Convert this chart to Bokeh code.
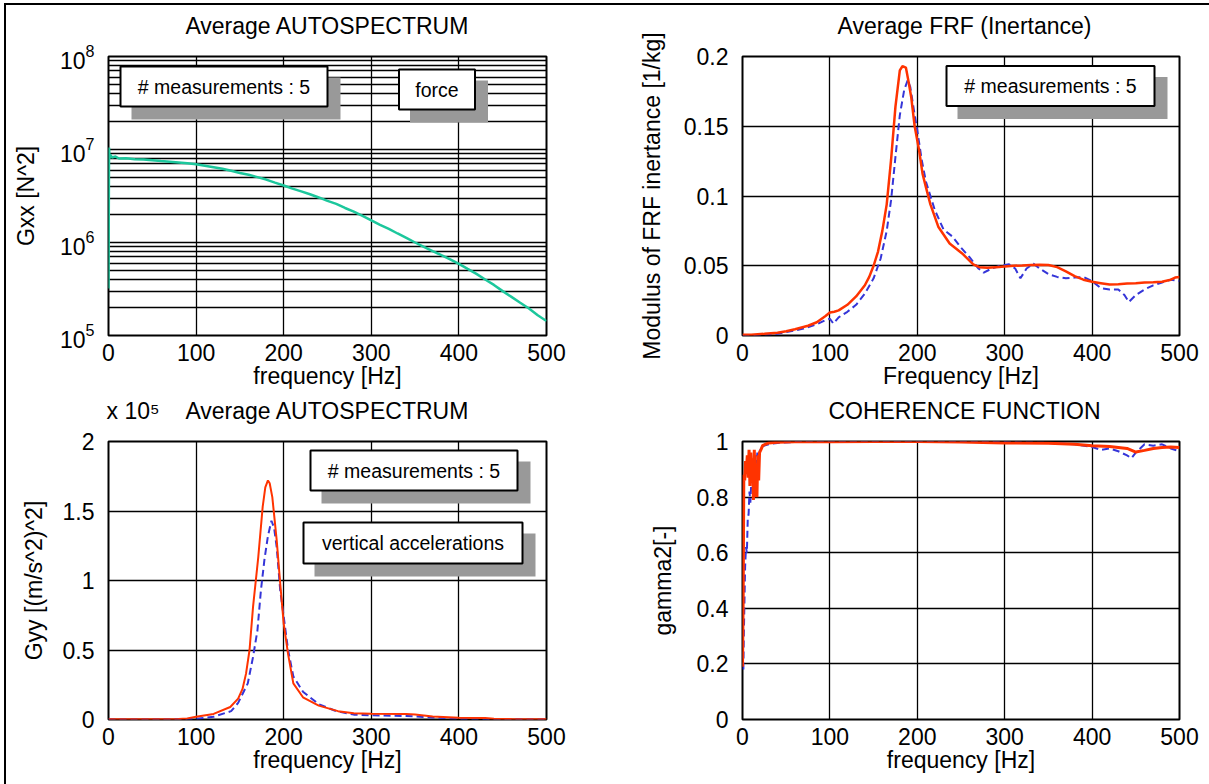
import math
from bokeh.plotting import figure
from bokeh.layouts import gridplot
from bokeh.models import Range1d, FixedTicker, Label, LinearAxis
from bokeh.embed import file_html
from bokeh.resources import INLINE

# ---------------- data ----------------
# Panel 1: force autospectrum Gxx [N^2]
gxx_f = [0, 0.6, 1.2, 2, 4, 8, 12, 20, 30, 40, 50, 60, 70, 80, 90, 100, 110, 120, 130, 140, 150,
         160, 170, 180, 190, 200, 210, 220, 230, 240, 250, 260, 270, 280, 290, 300, 310, 320,
         330, 340, 350, 360, 370, 380, 390, 400, 410, 420, 430, 440, 450, 460, 470, 480, 490, 500]
gxx_v = [3.2e5, 1.05e7, 8.0e6, 8.8e6, 8.2e6, 8.4e6, 8.0e6, 8.05e6, 7.85e6, 7.8e6, 7.65e6, 7.5e6,
         7.4e6, 7.25e6, 7.1e6, 6.95e6, 6.7e6, 6.45e6, 6.2e6, 5.9e6, 5.6e6, 5.35e6, 5.05e6, 4.75e6,
         4.4e6, 4.1e6, 3.8e6, 3.55e6, 3.3e6, 3.05e6, 2.8e6, 2.6e6, 2.35e6, 2.15e6, 1.93e6, 1.73e6,
         1.55e6, 1.4e6, 1.25e6, 1.12e6, 1.0e6, 9.0e5, 8.1e5, 7.3e5, 6.6e5, 5.9e5, 5.2e5, 4.6e5,
         4.0e5, 3.5e5, 3.0e5, 2.6e5, 2.25e5, 1.95e5, 1.65e5, 1.43e5]

# Panel 2: FRF inertance modulus [1/kg]
frf_red_f = [0, 10, 25, 40, 50, 60, 75, 85, 95, 100, 105, 110, 120, 130, 140, 145, 150, 155, 160,
             165, 170, 175, 180, 183, 187, 190, 193, 197, 202, 206, 210, 215, 224, 237, 251, 264,
             271, 280, 290, 300, 310, 320, 330, 340, 350, 360, 370, 380, 390, 400, 410, 420, 430,
             440, 450, 460, 470, 480, 490, 495, 500]
frf_red_v = [0.0005, 0.0005, 0.0012, 0.002, 0.003, 0.0045, 0.007, 0.0095, 0.014, 0.0165, 0.017,
             0.018, 0.022, 0.028, 0.036, 0.042, 0.05, 0.06, 0.075, 0.094, 0.126, 0.164, 0.19,
             0.193, 0.192, 0.182, 0.171, 0.15, 0.133, 0.116, 0.106, 0.094, 0.078, 0.066, 0.059,
             0.051, 0.049, 0.0485, 0.049, 0.0495, 0.05, 0.0502, 0.0505, 0.0508, 0.0505, 0.049,
             0.046, 0.0425, 0.04, 0.0385, 0.0375, 0.0365, 0.0368, 0.0372, 0.0375, 0.038, 0.0382,
             0.0385, 0.04, 0.0415, 0.042]
frf_blue_f = [0, 20, 40, 55, 70, 85, 95, 100, 104, 110, 120, 130, 140, 150, 158, 165, 170, 175,
              180, 185, 189, 192, 196, 200, 205, 210, 220, 230, 240, 250, 260, 270, 276, 285, 295,
              305, 312, 318, 325, 333, 340, 350, 360, 370, 380, 390, 400, 410, 420, 430, 437, 442,
              450, 460, 470, 480, 490, 500]
frf_blue_v = [0.0003, 0.0005, 0.0012, 0.003, 0.005, 0.008, 0.011, 0.012, 0.0085, 0.013, 0.017,
              0.022, 0.03, 0.041, 0.055, 0.075, 0.097, 0.128, 0.158, 0.176, 0.183, 0.178, 0.162,
              0.147, 0.126, 0.11, 0.09, 0.076, 0.071, 0.063, 0.056, 0.048, 0.045, 0.048, 0.05,
              0.051, 0.048, 0.041, 0.048, 0.0515, 0.048, 0.044, 0.042, 0.041, 0.0415, 0.042,
              0.039, 0.034, 0.033, 0.033, 0.029, 0.024, 0.029, 0.033, 0.036, 0.038, 0.04, 0.039]

# Panel 3: acceleration autospectrum Gyy [(m/s^2)^2], in units of 1e5
gyy_red_f = [0, 50, 80, 90, 100, 120, 139, 148, 153, 157, 161, 165, 171, 176, 179, 182, 184, 187,
             192, 196, 200, 205, 211, 222, 240, 262, 280, 300, 340, 350, 370, 400, 430, 440, 460, 500]
gyy_red_v = [0.002, 0.002, 0.004, 0.008, 0.02, 0.04, 0.09, 0.15, 0.22, 0.33, 0.5, 0.81, 1.17,
             1.53, 1.67, 1.72, 1.70, 1.6, 1.29, 0.98, 0.69, 0.47, 0.26, 0.16, 0.10, 0.06, 0.045,
             0.042, 0.04, 0.036, 0.022, 0.012, 0.01, 0.005, 0.003, 0.002]
gyy_blue_f = [0, 50, 100, 120, 140, 148, 159, 165, 170, 174, 178, 182, 186, 189, 192, 196, 200,
              205, 211, 222, 240, 260, 280, 300, 340, 370, 400, 450, 500]
gyy_blue_v = [0.001, 0.001, 0.005, 0.02, 0.06, 0.12, 0.26, 0.45, 0.64, 0.93, 1.15, 1.32, 1.43,
              1.38, 1.24, 0.93, 0.74, 0.5, 0.31, 0.2, 0.11, 0.06, 0.035, 0.03, 0.025, 0.015,
              0.006, 0.003, 0.002]

# Panel 4: coherence gamma^2
coh_red_f = [0, 0.8, 1.5, 2.5, 3.5, 4.5, 5.5, 6.5, 7.5, 8.5, 9.5, 10.5, 11.5, 12.5, 13.5, 14.5,
             15.5, 16.5, 17.5, 18.5, 19.5, 21, 23, 26, 30, 40, 60, 100, 150, 200, 250, 300, 350,
             380, 400, 420, 440, 450, 460, 470, 480, 490, 500]
coh_red_v = [0.19, 0.45, 0.88, 0.86, 0.93, 0.9, 0.95, 0.87, 0.97, 0.84, 0.96, 0.88, 0.94, 0.79,
             0.97, 0.8, 0.92, 0.8, 0.95, 0.86, 0.96, 0.97, 0.985, 0.99, 0.995, 0.997, 0.999,
             0.999, 1.0, 1.0, 0.998, 0.995, 0.994, 0.99, 0.985, 0.982, 0.975, 0.962, 0.968,
             0.975, 0.978, 0.98, 0.978]
coh_blue_f = [1, 1.5, 3, 4, 5, 6, 7, 8, 9, 10, 11, 12, 13, 14, 15, 16, 17, 18, 20, 22, 25, 30, 40,
              60, 100, 200, 300, 350, 380, 400, 410, 420, 430, 440, 445, 450, 460, 470, 480, 490, 500]
coh_blue_v = [0.18, 0.3, 0.55, 0.62, 0.6, 0.72, 0.74, 0.82, 0.78, 0.85, 0.9, 0.86, 0.93, 0.89,
              0.95, 0.92, 0.96, 0.94, 0.97, 0.98, 0.985, 0.99, 0.995, 0.998, 0.999, 1.0, 0.998,
              0.995, 0.99, 0.98, 0.97, 0.975, 0.965, 0.95, 0.94, 0.96, 0.99, 0.985, 0.99, 0.975, 0.965]

x_ticks = [0, 100, 200, 300, 400, 500]
gxx_ticks = [100000, 1000000, 10000000, 100000000]
frf_ticks = [0, 0.05, 0.1, 0.15, 0.2]
frf_tick_labels = ["0", "0.05", "0.1", "0.15", "0.2"]
gyy_ticks = [0, 0.5, 1, 1.5, 2]
gyy_tick_labels = ["0", "0.5", "1", "1.5", "2"]
gyy_multiplier = "x 10\u2075"
coh_ticks = [0, 0.2, 0.4, 0.6, 0.8, 1]
coh_tick_labels = ["0", "0.2", "0.4", "0.6", "0.8", "1"]

# ---------------- style ----------------
FONT = "Liberation Sans"
FS = "23px"
BOX_FS = "19.5px"
RED = "#ff3300"
BLUE = "#3535d8"
TEAL = "#1cc79c"
SHADOW = "#999999"


def style_axis(ax):
    ax.major_label_text_font = FONT
    ax.major_label_text_font_size = FS
    ax.major_label_text_color = "black"
    ax.axis_label_text_font = FONT
    ax.axis_label_text_font_size = FS
    ax.axis_label_text_font_style = "normal"
    ax.axis_label_text_color = "black"
    ax.major_tick_line_color = None
    ax.minor_tick_line_color = None
    ax.axis_line_color = None


def add_head(p, labels):
    """Title row above the frame (title text and, if any, the axis multiplier)."""
    ticks = list(labels.keys())
    head = LinearAxis(ticker=FixedTicker(ticks=ticks), major_label_overrides=labels)
    style_axis(head)
    head.major_label_standoff = 12
    p.add_layout(head, "above")


def make_fig(xlabel, ylabel, yr, yticks, ylabels=None, ylog=False, minor=None,
             bl=102, br=58, bt=51, bb=57, fw=438, fh=279, ystand=22):
    p = figure(frame_width=fw, frame_height=fh, min_border_left=bl, min_border_right=br,
               min_border_top=bt, min_border_bottom=bb,
               x_range=Range1d(0, 500), y_range=yr,
               y_axis_type="log" if ylog else "linear",
               output_backend="svg", toolbar_location=None, tools="")
    p.background_fill_color = "white"
    p.border_fill_color = "white"
    p.outline_line_color = "black"
    p.outline_line_width = 2
    p.outline_line_alpha = 1

    xt = FixedTicker(ticks=x_ticks)
    p.xaxis.ticker = xt
    p.xgrid.ticker = xt
    if minor is not None:
        yt = FixedTicker(ticks=yticks, minor_ticks=minor)
    else:
        yt = FixedTicker(ticks=yticks)
    p.yaxis.ticker = yt
    p.ygrid.ticker = yt
    if ylabels is not None:
        p.yaxis.major_label_overrides = {t: l for t, l in zip(yticks, ylabels)}

    p.xaxis.axis_label = xlabel
    p.yaxis.axis_label = ylabel
    style_axis(p.xaxis[0])
    style_axis(p.yaxis[0])
    p.xaxis.major_label_standoff = 2
    p.yaxis.major_label_standoff = 8
    p.xaxis.axis_label_standoff = -1
    p.yaxis.axis_label_standoff = ystand
    p.yaxis.major_label_orientation = "horizontal"

    for g in (p.xgrid[0], p.ygrid[0]):
        g.grid_line_color = "black"
        g.grid_line_alpha = 1
        g.grid_line_width = 1.3
    if minor is not None:
        p.ygrid.minor_grid_line_color = "black"
        p.ygrid.minor_grid_line_alpha = 1
        p.ygrid.minor_grid_line_width = 1.3
    return p


def textbox(p, fw, fh, cx, cy, w, h, text, yr, ylog=False):
    """Box with drop shadow, positioned in frame pixels (cx, cy from top-left)."""
    def tx(px):
        return 500.0 * px / fw

    def ty(py):
        lo, hi = yr.start, yr.end
        if ylog:
            a, b = math.log10(lo), math.log10(hi)
            return 10 ** (b - (b - a) * py / fh)
        return hi - (hi - lo) * py / fh

    p.rect(x=[tx(cx + 12)], y=[ty(cy + 12)], width=[w + 2], height=[h + 2],
           width_units="screen", height_units="screen",
           fill_color=SHADOW, line_color=None)
    p.rect(x=[tx(cx)], y=[ty(cy)], width=[w], height=[h],
           width_units="screen", height_units="screen",
           fill_color="white", line_color="black", line_width=2)
    p.add_layout(Label(x=tx(cx), y=ty(cy), text=text, text_align="center",
                       text_baseline="middle", text_font=FONT, text_font_size=BOX_FS,
                       text_color="black"))


# ---- panel 1
minor_log = [m * 10 ** e for e in (5, 6, 7) for m in range(2, 10)]
yr1 = Range1d(1e5, 1e8)
p1 = make_fig("frequency [Hz]", "Gxx [N^2]", yr1, gxx_ticks, None, ylog=True, minor=minor_log,
              bl=102, br=58, bt=51, bb=57, fw=438, fh=279, ystand=18)
add_head(p1, {250: "Average AUTOSPECTRUM"})
textbox(p1, 438, 279, 115.5, 30, 207, 40, "# measurements : 5", yr1, ylog=True)
textbox(p1, 438, 279, 328.5, 33, 76, 40, "force", yr1, ylog=True)
p1.line(gxx_f, gxx_v, line_color=TEAL, line_width=2.5)

# ---- panel 2
yr2 = Range1d(0, 0.2)
p2 = make_fig("Frequency [Hz]", "Modulus of FRF inertance [1/kg]", yr2, frf_ticks, frf_tick_labels,
              bl=138, br=30, bt=51, bb=57, fw=437, fh=279, ystand=16)
add_head(p2, {254: "Average FRF (Inertance)"})
textbox(p2, 437, 279, 308, 29.5, 208, 40, "# measurements : 5", yr2)
p2.line(frf_blue_f, frf_blue_v, line_color=BLUE, line_width=2, line_dash="7 4")
p2.line(frf_red_f, frf_red_v, line_color=RED, line_width=2.5)

# ---- panel 3
yr3 = Range1d(0, 2)
p3 = make_fig("frequency [Hz]", "Gyy [(m/s^2)^2]", yr3, gyy_ticks, gyy_tick_labels,
              bl=102, br=58, bt=49, bb=65, fw=438, fh=278, ystand=13)
add_head(p3, {28: gyy_multiplier, 250: "Average AUTOSPECTRUM"})
textbox(p3, 438, 278, 305.5, 29, 207, 40, "# measurements : 5", yr3)
textbox(p3, 438, 278, 304.5, 101.5, 219, 41, "vertical accelerations", yr3)
p3.line(gyy_blue_f, gyy_blue_v, line_color=BLUE, line_width=2, line_dash="7 4")
p3.line(gyy_red_f, gyy_red_v, line_color=RED, line_width=2)

# ---- panel 4
yr4 = Range1d(0, 1)
p4 = make_fig("frequency [Hz]", "gamma2[-]", yr4, coh_ticks, coh_tick_labels,
              bl=138, br=30, bt=49, bb=65, fw=437, fh=278, ystand=18)
add_head(p4, {254: "COHERENCE FUNCTION"})
p4.line(coh_blue_f, coh_blue_v, line_color=BLUE, line_width=2, line_dash="7 4")
p4.line(coh_red_f, coh_red_v, line_color=RED, line_width=3)

grid = gridplot([[p1, p2], [p3, p4]], toolbar_location=None)
grid.margin = (3, 0, 0, 4)
grid.styles = {"border-top": "2px solid black", "border-left": "2px solid black"}

open("out.html", "w").write(file_html(grid, INLINE))
